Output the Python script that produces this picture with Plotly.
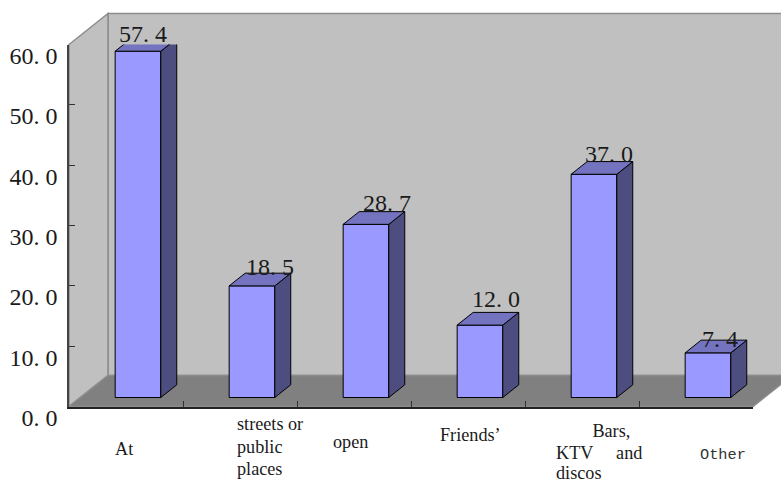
import plotly.graph_objects as go

# Survey results by location
category_lines = [["At"], ["streets or", "public", "places"], ["open"], ["Friends\u2019"],
                  ["\u00a0\u00a0\u00a0\u00a0\u00a0\u00a0\u00a0\u00a0Bars,",
                   "KTV\u00a0\u00a0\u00a0\u00a0\u00a0and", "discos"], ["Other"]]
values = [57.4, 18.5, 28.7, 12.0, 37.0, 7.4]
y_ticks = [0, 10, 20, 30, 40, 50, 60]

# Nudges (px) of the value labels away from their bars
label_dx = [5, 18, 21, 16, 15, 12]
label_dy = [2, 4, 6, 11, 5, -1]
# Category label anchors in page pixels: left edge, then centre of each line
cat_left = [112.5, 234.5, 330.5, 437.5, 553.5, 698]
cat_mids = [[449], [424, 447, 469], [442], [435], [431, 453, 473], [455]]

WIDTH, HEIGHT = 781, 480
AX_L, AX_R, AX_T, AX_B = 69, 753, 44.5, 406.5   # front plot frame in pixels
DEPTH_X, DEPTH_Y = 39, 31                       # wall receding offset in pixels

cat_px = (AX_R - AX_L) / len(values)
val_px = (AX_B - AX_T) / 60
depth_dx = DEPTH_X / cat_px
depth_dy = DEPTH_Y / val_px

BAR_CENTER = 0.605
BAR_W = 0.40
BAR_FRONT = 0.29   # fraction of depth where a bar starts
BAR_DEPTH = 0.41   # fraction of depth a bar occupies
base = BAR_FRONT * depth_dy
bar_dx = BAR_DEPTH * depth_dx
bar_dy = BAR_DEPTH * depth_dy

FRONT = "#9999FF"
SIDE = "#4D4D80"
TOP = "#7373BF"
WALL = "#C0C0C0"
FLOOR = "#808080"
EDGE = "#8C8C8C"


def page_path(points):
    """SVG path in paper fractions from page pixel points."""
    parts = [f"{x / WIDTH:.5f},{1 - y / HEIGHT:.5f}" for x, y in points]
    return "M" + " L".join(parts) + " Z"


def wall_shape(points, fill):
    return dict(type="path", xref="paper", yref="paper", layer="below",
                path=page_path(points), fillcolor=fill,
                line=dict(color=EDGE, width=1.5))


back_l, back_r = AX_L + DEPTH_X, AX_R + DEPTH_X
back_t, back_b = AX_T - DEPTH_Y, AX_B - DEPTH_Y
shapes = [
    wall_shape([(back_l, back_t), (back_r, back_t), (back_r, back_b), (back_l, back_b)], WALL),
    wall_shape([(AX_L, AX_B), (AX_L, AX_T), (back_l, back_t), (back_l, back_b)], WALL),
    wall_shape([(AX_L, AX_B), (AX_R, AX_B), (back_r, back_b), (back_l, back_b)], FLOOR),
]

fig = go.Figure()

centers = [i + BAR_CENTER for i in range(len(values))]
fig.add_trace(go.Bar(
    x=centers, y=values, base=base, width=BAR_W,
    marker=dict(color=FRONT, line=dict(color="black", width=1)),
    hoverinfo="skip", showlegend=False,
))

for c, v in zip(centers, values):
    left, right = c - BAR_W / 2, c + BAR_W / 2
    top = base + v
    # side face
    fig.add_trace(go.Scatter(
        x=[right, right + bar_dx, right + bar_dx, right, right],
        y=[base, base + bar_dy, top + bar_dy, top, base],
        mode="lines", fill="toself", fillcolor=SIDE,
        line=dict(color="black", width=1), hoverinfo="skip",
        showlegend=False, cliponaxis=False,
    ))
    # top face
    fig.add_trace(go.Scatter(
        x=[left, left + bar_dx, right + bar_dx, right, left],
        y=[top, top + bar_dy, top + bar_dy, top, top],
        mode="lines", fill="toself", fillcolor=TOP,
        line=dict(color="black", width=1), hoverinfo="skip",
        showlegend=False, cliponaxis=False,
    ))

annotations = []
for c, v, dx, dy in zip(centers, values, label_dx, label_dy):
    annotations.append(dict(
        x=c, y=base + v, xref="x", yref="y", text=f"{v:.1f}".replace(".", ". "),
        showarrow=False, xanchor="center", yanchor="bottom",
        xshift=dx, yshift=dy,
        font=dict(family="Liberation Serif", size=24, color="#1a1a1a"),
    ))

for lines, left, mids in zip(category_lines, cat_left, cat_mids):
    is_mono = lines == ["Other"]
    for text, mid in zip(lines, mids):
        annotations.append(dict(
            x=left / WIDTH, y=1 - mid / HEIGHT, xref="paper", yref="paper",
            text=text, showarrow=False, xanchor="left", yanchor="middle", align="left",
            font=dict(family="Liberation Mono" if is_mono else "Liberation Serif",
                      size=15.3 if is_mono else 18.2,
                      color="#333333" if is_mono else "#1a1a1a"),
        ))

fig.update_layout(
    width=WIDTH, height=HEIGHT,
    margin=dict(l=0, r=0, t=0, b=0, autoexpand=False),
    paper_bgcolor="white", plot_bgcolor="rgba(0,0,0,0)",
    shapes=shapes, annotations=annotations, showlegend=False,
    xaxis=dict(
        domain=[AX_L / WIDTH, AX_R / WIDTH], range=[0, len(values)],
        tickvals=list(range(len(values) + 1)), showticklabels=False,
        ticks="inside", ticklen=6, tickcolor="#333333", tickwidth=1,
        showline=True, linecolor="#222222", linewidth=2, showgrid=False, zeroline=False,
    ),
    yaxis=dict(
        domain=[1 - AX_B / HEIGHT, 1 - AX_T / HEIGHT], range=[0, 60],
        tickvals=y_ticks, ticktext=[f"{t:.1f}".replace(".", ". ") for t in y_ticks],
        ticks="inside", ticklen=6, tickcolor="#333333", tickwidth=1,
        ticklabelshift=11, ticklabelstandoff=5,
        tickfont=dict(family="Liberation Serif", size=24, color="#1a1a1a"),
        showline=True, linecolor="#444444", linewidth=1.5, showgrid=False, zeroline=False,
    ),
)

fig.write_html("out.html")
